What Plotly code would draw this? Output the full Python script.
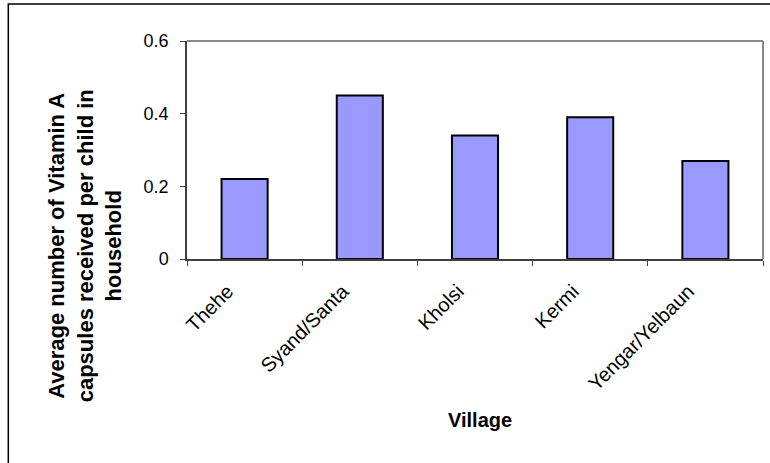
import plotly.graph_objects as go

villages = ["Thehe", "Syand/Santa", "Kholsi", "Kermi", "Yengar/Yelbaun"]
avg_capsules = [0.22, 0.45, 0.34, 0.39, 0.27]
y_ticks = [0, 0.2, 0.4, 0.6]
y_tick_labels = ["0", "0.2", "0.4", "0.6"]
y_title = "Average number of Vitamin A<br>capsules received per child in<br>household"
x_title = "Village"

W, H = 770, 463
L, R, T, B = 186.7, 762.7, 41, 259  # plot area in pixels

def px(x):
    return (x - L) / (R - L)

def py(y):
    return (B - y) / (B - T)

FONT = "Liberation Sans, Arial, sans-serif"

fig = go.Figure(
    go.Bar(
        x=villages,
        y=avg_capsules,
        marker=dict(color="#9999FF", line=dict(color="black", width=2)),
        showlegend=False,
    )
)

fig.update_layout(
    width=W,
    height=H,
    margin=dict(l=L, r=W - R, t=T, b=H - B),
    paper_bgcolor="white",
    plot_bgcolor="white",
    bargap=0.6,
    font=dict(family=FONT, size=18, color="black"),
    xaxis=dict(
        type="category",
        showline=True,
        linecolor="#404040",
        linewidth=1.5,
        ticks="outside",
        tickson="boundaries",
        ticklen=5,
        tickcolor="#404040",
        tickangle=-45,
        showgrid=False,
        ticklabelstandoff=11,
        ticklabelshift=-17,
        tickfont=dict(size=20),
    ),
    yaxis=dict(
        range=[0, 0.6],
        tickvals=y_ticks,
        ticktext=y_tick_labels,
        showline=True,
        linecolor="#404040",
        linewidth=1.5,
        ticks="outside",
        ticklen=5,
        tickcolor="#404040",
        showgrid=False,
        zeroline=False,
        ticklabelstandoff=8,
        tickfont=dict(size=18),
    ),
    shapes=[
        dict(type="line", xref="paper", yref="paper", x0=0, x1=1, y0=1, y1=1,
             line=dict(color="#888888", width=2)),
        dict(type="line", xref="paper", yref="paper", x0=1, x1=1, y0=0, y1=1,
             line=dict(color="#888888", width=2)),
        dict(type="rect", xref="paper", yref="paper",
             x0=px(8), x1=px(780), y0=py(4), y1=py(480),
             line=dict(color="black", width=1.5), layer="below"),
    ],
    annotations=[
        dict(text="<b>" + y_title + "</b>", xref="paper", yref="paper",
             x=px(85), y=py(246), xanchor="center", yanchor="middle",
             textangle=-90, showarrow=False, font=dict(size=22)),
        dict(text="<b>" + x_title + "</b>", xref="paper", yref="paper",
             x=px(480), y=py(420), xanchor="center", yanchor="middle",
             showarrow=False, font=dict(size=20)),
    ],
)

fig.write_html(
    "out.html",
    config={"displayModeBar": False},
    post_script="document.body.style.margin='0';document.body.style.overflow='hidden';",
)
